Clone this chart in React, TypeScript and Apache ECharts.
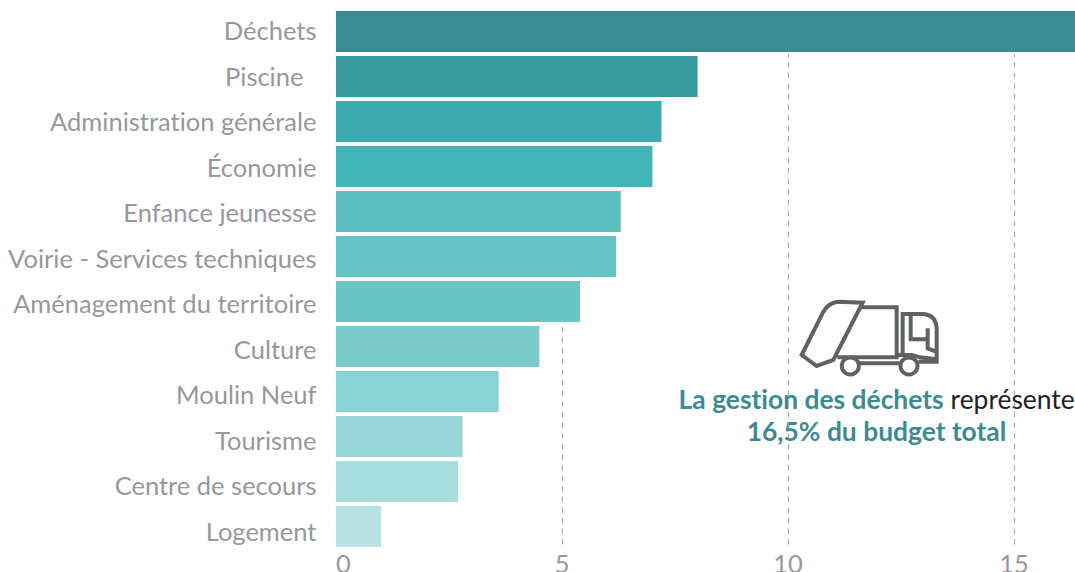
import React, { useEffect, useRef } from "react";
import * as echarts from "echarts";

const categories = ["Déchets", "Piscine\u00a0\u00a0", "Administration générale", "Économie", "Enfance jeunesse", "Voirie - Services techniques", "Aménagement du territoire", "Culture", "Moulin Neuf", "Tourisme", "Centre de secours", "Logement"];
const values = [16.5, 8.0, 7.2, 7.0, 6.3, 6.2, 5.4, 4.5, 3.6, 2.8, 2.7, 1.0];
const barColors = ["#3a8c92", "#389b9d", "#3cabb0", "#42b4b7", "#5cbdc0", "#65c3c5", "#6bc4c6", "#7bcbcd", "#89d3d5", "#99d6d8", "#a8dddd", "#b8e2e3"];

const Z = (x: number, y: number) => `${780 + x / 3} ${280 + y / 3}`;
const truckD = [
  `M${Z(65, 225)} L${Z(110, 258)} L${Z(160, 240)} L${Z(248, 68)} L${Z(175, 65)} Q${Z(145, 68)} ${Z(130, 95)} Z`,
  `M${Z(245, 82)} L${Z(350, 82)} L${Z(350, 232)} L${Z(172, 232)}`,
  `M${Z(368, 225)} L${Z(368, 102)} L${Z(425, 102)} Q${Z(470, 102)} ${Z(470, 150)} L${Z(470, 245)} L${Z(415, 245)}`,
  `M${Z(392, 105)} L${Z(392, 178)} L${Z(440, 178)} M${Z(443, 145)} L${Z(443, 205)} L${Z(468, 215)}`,
  `M${Z(235, 250)} L${Z(358, 250)} M${Z(350, 225)} L${Z(395, 225)} L${Z(420, 232)} L${Z(470, 238)}`,
].join(" ");
echarts.graphic.registerShape("truck", echarts.graphic.extendPath(truckD, {}) as any);

const labelColor = "#97989c";

export default function App() {
  const ref = useRef<HTMLDivElement>(null);
  useEffect(() => {
    document.body.style.margin = "0";
    const css = document.createElement("style");
    css.textContent = "svg text { font-variant-ligatures: none; }";
    document.head.appendChild(css);
    const chart = echarts.init(ref.current!, null, { renderer: "svg" });
    const iconStyle = { fill: "none", stroke: "#5f6262", lineWidth: 4 };
    chart.setOption({
      animation: false,
      grid: [
        { left: 336, top: 9, width: 904, height: 540, outerBoundsMode: "none" },
        { left: 336, top: 7.6, width: 904, height: 546, outerBoundsMode: "none" },
      ],
      xAxis: [
        {
          type: "value", min: 0, max: 20, interval: 5, gridIndex: 0,
          axisLine: { show: false }, axisTick: { show: false },
          splitLine: { show: true, lineStyle: { type: [5.6, 5], color: "#adadad", width: 1.2 } },
          axisLabel: { show: true, color: labelColor, fontFamily: "Lato", fontSize: 25.4, lineHeight: 18, margin: 5, alignMinLabel: "left", showMaxLabel: false },
        },
        { type: "value", min: 0, max: 20, gridIndex: 1, show: false },
      ],
      yAxis: [
        { type: "category", inverse: true, data: categories, gridIndex: 0, axisLine: { show: false }, axisTick: { show: false }, splitLine: { show: false }, axisLabel: { show: false } },
        { type: "category", inverse: true, data: categories, gridIndex: 0, show: false },
        {
          type: "category", inverse: true, data: categories, gridIndex: 1,
          axisLine: { show: false }, axisTick: { show: false }, splitLine: { show: false },
          axisLabel: { color: labelColor, fontFamily: "Lato", fontSize: 25.5, margin: 19.5 },
        },
      ],
      series: [
        {
          type: "bar", xAxisIndex: 0, yAxisIndex: 1, z: 1, silent: true, barWidth: 45, clip: true,
          data: values, itemStyle: { color: "#ffffff" },
        },
        {
          type: "bar", xAxisIndex: 0, yAxisIndex: 0, z: 2, barWidth: 41, clip: true,
          data: values.map((v, i) => ({ value: v, itemStyle: { color: barColors[i] } })),
        },
      ],
      graphic: [
        { type: "truck", style: iconStyle },
        { type: "circle", shape: { cx: 780 + 211 / 3, cy: 280 + 258 / 3, r: 8.5 }, style: { ...iconStyle, fill: "#fff" } },
        { type: "circle", shape: { cx: 780 + 387 / 3, cy: 280 + 258 / 3, r: 8.5 }, style: { ...iconStyle, fill: "#fff" } },
        {
          type: "text", x: 876.5, y: 415,
          style: {
            text: "{b|La gestion des déchets} {n|représente}\n{b|16,5% du budget total}",
            align: "center", verticalAlign: "middle", fontFamily: "Lato", fontSize: 26.4, lineHeight: 32,
            rich: {
              b: { fontFamily: "Lato", fontSize: 26.4, fontWeight: "bold", fill: "#3a8c92", lineHeight: 32 },
              n: { fontFamily: "Lato", fontSize: 26.4, fill: "#222222", lineHeight: 32 },
            },
          },
        },
      ],
    });
    return () => { chart.dispose(); css.remove(); };
  }, []);
  return <div ref={ref} style={{ width: 1075, height: 572 }} />;
}
